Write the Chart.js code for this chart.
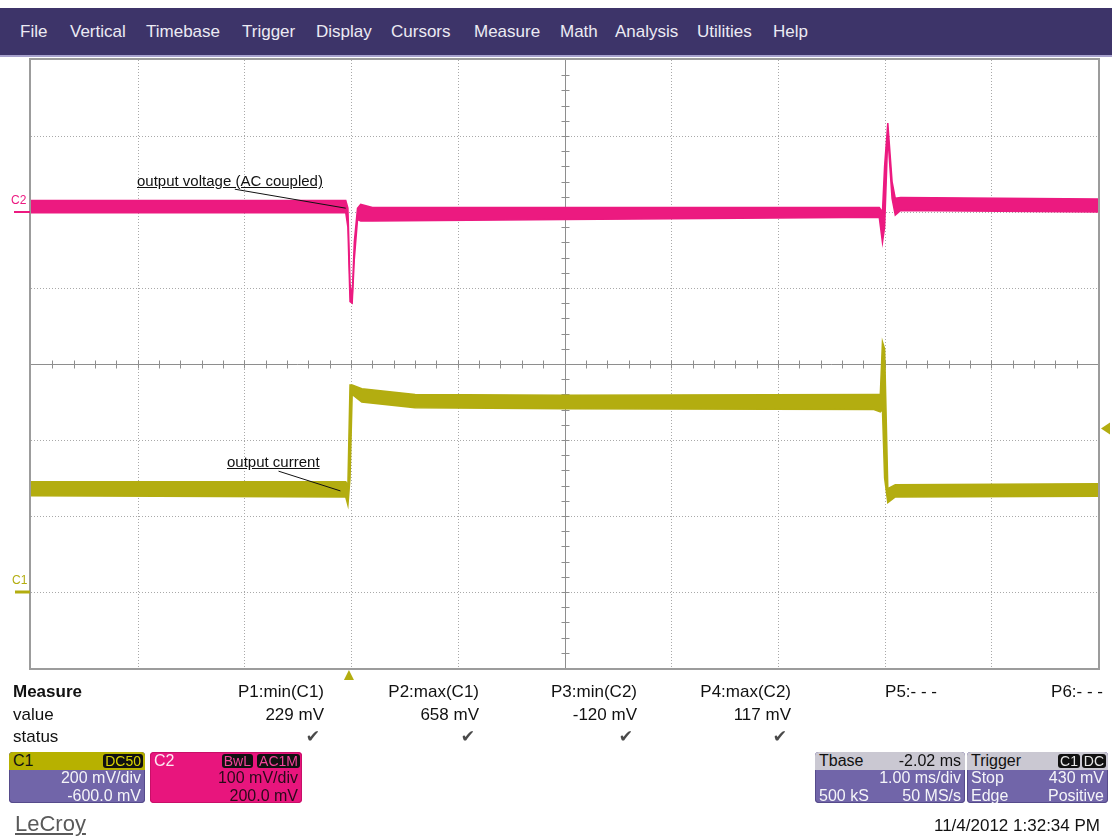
<!DOCTYPE html>
<html>
<head>
<meta charset="utf-8">
<script src="https://cdn.jsdelivr.net/npm/chart.js@4.4.1/dist/chart.umd.min.js"></script>
<style>
  body { margin: 0; background: #fff; font-family: "Liberation Sans", Arial, sans-serif; }
  #wrap { position: relative; width: 1112px; height: 836px; overflow: hidden; }
  #scope { position: absolute; left: 0; top: 0; }
  .menu { position: absolute; left: 0; top: 8px; width: 1112px; height: 47px; background: #3d3469; border-bottom: 2px solid #a7a1cd; }
  .menu span { position: absolute; top: 15px; color: #ecebf4; font-size: 17px; line-height: 17px; }
  .t { position: absolute; white-space: nowrap; line-height: 17px; font-size: 17px; color: #111; }
  .r { text-align: right; }
  .note { position: absolute; font-size: 15px; line-height: 15px; color: #111; text-decoration: underline; white-space: nowrap; }
  .box { position: absolute; top: 752px; height: 51px; background: #7165a9; border-radius: 4px; overflow: hidden;
         color: #f4f4f8; font-size: 16px; box-shadow: inset 0 0 0 1px #564b8b; }
  .hd { position: relative; height: 18px; line-height: 18px; padding: 0 4px; font-size: 16px; }
  .badge { position: absolute; top: 2px; background: #111; border-radius: 3px; padding: 0 2px; line-height: 14px; font-size: 14px; }
  .row { position: absolute; line-height: 16px; white-space: nowrap; }
</style>
</head>
<body>
<div id="wrap">
  <canvas id="scope" width="1112" height="836"></canvas>

  <div class="menu" id="menu"></div>

  <!-- channel ground labels -->
  <div class="t" style="left:11px;top:194px;font-size:12px;line-height:12px;color:#ec1a80">C2</div>
  <div class="t" style="left:12px;top:574px;font-size:12px;line-height:12px;color:#b3ad10">C1</div>

  <!-- trace annotations -->
  <div class="note" style="left:137px;top:173px">output voltage (AC coupled)</div>
  <div class="note" style="left:227px;top:454px">output current</div>

  <div id="measure"></div>

  <div class="box" style="left:9px;width:136px;">
    <div class="hd" style="background:#b7b100;color:#111">C1<span class="badge" style="right:2px;color:#d8d200">DC50</span></div>
    <div class="row" style="right:4px;top:18px">200 mV/div</div>
    <div class="row" style="right:4px;top:36px">-600.0 mV</div>
  </div>
  <div class="box" style="left:150px;width:152px;background:#e8157d;box-shadow:inset 0 0 0 1px #c80f68;color:#2a0a1a">
    <div class="hd" style="color:#fde8f2">C2<span class="badge" style="right:49px;color:#f3449a">BwL</span><span class="badge" style="right:2px;color:#f3449a">AC1M</span></div>
    <div class="row" style="right:4px;top:18px">100 mV/div</div>
    <div class="row" style="right:4px;top:36px">200.0 mV</div>
  </div>
  <div class="box" style="left:815px;width:150px;">
    <div class="hd" style="background:#cac8d2;color:#111">Tbase<span style="position:absolute;right:4px">-2.02 ms</span></div>
    <div class="row" style="right:4px;top:18px">1.00 ms/div</div>
    <div class="row" style="left:4px;top:36px">500 kS</div>
    <div class="row" style="right:4px;top:36px">50 MS/s</div>
  </div>
  <div class="box" style="left:967px;width:141px;">
    <div class="hd" style="background:#cac8d2;color:#111">Trigger<span class="badge" style="right:28px;color:#e6e6e6">C1</span><span class="badge" style="right:2px;color:#e6e6e6">DC</span></div>
    <div class="row" style="left:4px;top:18px">Stop</div>
    <div class="row" style="right:4px;top:18px">430 mV</div>
    <div class="row" style="left:4px;top:36px">Edge</div>
    <div class="row" style="right:4px;top:36px">Positive</div>
  </div>

  <div class="t" style="left:15px;top:813px;font-size:22px;line-height:22px;color:#5a5a5a;text-decoration:underline">LeCroy</div>
  <div class="t r" style="right:12px;top:817px">11/4/2012 1:32:34 PM</div>
</div>

<script>
// time axis in ms (trigger at 0), 1 ms/div, 10 divisions
const timeMin = -3;
const timeMax = 7;
const triggerTime = -0.02;

// C1 output current probe, mV (200 mV/div, offset -600 mV): upper / lower edge of the noisy trace
const c1Time = [-3.0, -0.05, -0.03, -0.01, 0.01, 0.1, 0.6, 2.0, 4.9, 4.96, 4.98, 5.0, 5.03, 5.1, 7.0];
const c1Hi   = [290, 290, 280, 545, 545, 535, 520, 518, 520, 520, 658, 640, 272, 282, 285];
const c1Lo   = [253, 250, 229, 300, 520, 500, 485, 482, 480, 474, 480, 300, 235, 250, 252];

// C2 output voltage, AC coupled, mV (100 mV/div, offset 200 mV)
const c2Time = [-3.0, -0.05, -0.03, -0.01, 0.01, 0.03, 0.06, 0.09, 0.2, 2.0, 4.95, 4.98, 5.0, 5.03, 5.07, 5.1, 5.15, 7.0];
const c2Hi   = [15, 15, 5, -95, -112, -40, 5, 10, 6, 6, 6, 0, 60, 117, 40, 18, 19, 17];
const c2Lo   = [-1, -1, -20, -118, -120, -62, -10, -12, -12, -10, -7, -40, -20, 100, 18, -4, 2, 0];

// vertical ranges shown on screen for each channel (8 divisions)
const c1Range = [-200, 1400];
const c2Range = [-600, 200];
const triggerLevel = 430;

const menuItems = ["File", "Vertical", "Timebase", "Trigger", "Display", "Cursors", "Measure", "Math", "Analysis", "Utilities", "Help"];
const menuLeft  = [20, 70, 146, 242, 316, 391, 474, 560, 615, 697, 773];

const measNames  = ["P1:min(C1)", "P2:max(C1)", "P3:min(C2)", "P4:max(C2)", "P5:- - -", "P6:- - -"];
const measValues = ["229 mV", "658 mV", "-120 mV", "117 mV", "", ""];
const measOk     = [true, true, true, true, false, false];
const measRight  = [324, 479, 637, 791, 937, 1103];

const pink = "#ec1a80";
const olive = "#b3ad10";

// menu bar + measure table
const menu = document.getElementById("menu");
menuItems.forEach(function (name, i) {
    const s = document.createElement("span");
    s.textContent = name;
    s.style.left = menuLeft[i] + "px";
    menu.appendChild(s);
});

let html = '<div class="t" style="left:13px;top:683px;font-weight:bold">Measure</div>' +
           '<div class="t" style="left:13px;top:706px">value</div>' +
           '<div class="t" style="left:13px;top:728px">status</div>';
measNames.forEach(function (name, i) {
    const right = 1112 - measRight[i];
    html += '<div class="t r" style="right:' + right + 'px;top:683px">' + name + '</div>';
    if (measValues[i]) html += '<div class="t r" style="right:' + right + 'px;top:706px">' + measValues[i] + '</div>';
    if (measOk[i]) html += '<div class="t r" style="right:' + (right + 4) + 'px;top:728px;color:#4a4a4a;font-family:\'DejaVu Sans\'">\u2714</div>';
});
document.getElementById("measure").innerHTML = html;

function pts(times, vals) {
    return times.map((t, i) => ({ x: t, y: vals[i] }));
}

// graticule: dotted divisions, solid centre axes with minor ticks, frame
const graticule = {
    id: "graticule",
    beforeDatasetsDraw(chart) {
        const { ctx, chartArea: a, scales } = chart;
        const xs = scales.x, ys = scales.y2;
        const xMid = (timeMin + timeMax) / 2;
        const yMid = (c2Range[0] + c2Range[1]) / 2;
        ctx.save();
        ctx.lineWidth = 1;
        ctx.strokeStyle = "#a9a9a9";
        ctx.setLineDash([1, 2]);
        for (let t = timeMin + 1; t < timeMax; t++) {
            if (t === xMid) continue;
            const px = Math.round(xs.getPixelForValue(t)) + 0.5;
            ctx.beginPath(); ctx.moveTo(px, a.top); ctx.lineTo(px, a.bottom); ctx.stroke();
        }
        for (let v = c2Range[0] + 100; v < c2Range[1]; v += 100) {
            if (v === yMid) continue;
            const py = Math.round(ys.getPixelForValue(v)) + 0.5;
            ctx.beginPath(); ctx.moveTo(a.left, py); ctx.lineTo(a.right, py); ctx.stroke();
        }
        ctx.setLineDash([]);
        ctx.strokeStyle = "#8e8e8e";
        const cx = Math.round(xs.getPixelForValue(xMid)) + 0.5;
        const cy = Math.round(ys.getPixelForValue(yMid)) + 0.5;
        ctx.beginPath();
        ctx.moveTo(cx, a.top); ctx.lineTo(cx, a.bottom);
        ctx.moveTo(a.left, cy); ctx.lineTo(a.right, cy);
        for (let t = timeMin + 0.2; t < timeMax - 0.1; t += 0.2) {
            const px = Math.round(xs.getPixelForValue(t)) + 0.5;
            ctx.moveTo(px, cy - 4); ctx.lineTo(px, cy + 4);
        }
        for (let v = c2Range[0] + 20; v < c2Range[1] - 10; v += 20) {
            const py = Math.round(ys.getPixelForValue(v)) + 0.5;
            ctx.moveTo(cx - 4, py); ctx.lineTo(cx + 4, py);
        }
        ctx.stroke();
        ctx.strokeStyle = "#9c9c9c";
        ctx.lineWidth = 2;
        ctx.strokeRect(a.left - 1, a.top - 1, a.right - a.left + 2, a.bottom - a.top + 2);
        ctx.restore();
    },
    afterDatasetsDraw(chart) {
        const { ctx, chartArea: a, scales } = chart;
        const xs = scales.x, y1 = scales.y1, y2 = scales.y2;
        ctx.save();
        // annotation leader lines
        ctx.strokeStyle = "#111";
        ctx.lineWidth = 1;
        ctx.beginPath();
        ctx.moveTo(xs.getPixelForValue(-1.09), y2.getPixelForValue(30));
        ctx.lineTo(xs.getPixelForValue(-0.05), y2.getPixelForValue(5));
        ctx.moveTo(xs.getPixelForValue(-0.68), y1.getPixelForValue(318));
        ctx.lineTo(xs.getPixelForValue(-0.1), y1.getPixelForValue(266));
        ctx.stroke();
        // ground markers
        ctx.lineWidth = 2;
        ctx.strokeStyle = pink;
        ctx.beginPath(); ctx.moveTo(14, y2.getPixelForValue(0)); ctx.lineTo(a.left - 1, y2.getPixelForValue(0)); ctx.stroke();
        ctx.lineWidth = 3;
        ctx.strokeStyle = olive;
        ctx.beginPath(); ctx.moveTo(15, y1.getPixelForValue(0)); ctx.lineTo(a.left - 1, y1.getPixelForValue(0)); ctx.stroke();
        // trigger time and level markers
        ctx.fillStyle = olive;
        const tx = xs.getPixelForValue(triggerTime);
        ctx.beginPath(); ctx.moveTo(tx, a.bottom + 2); ctx.lineTo(tx + 5, a.bottom + 12); ctx.lineTo(tx - 5, a.bottom + 12); ctx.closePath(); ctx.fill();
        const ly = y1.getPixelForValue(triggerLevel);
        ctx.beginPath(); ctx.moveTo(a.right + 3, ly); ctx.lineTo(a.right + 12, ly - 6); ctx.lineTo(a.right + 12, ly + 6); ctx.closePath(); ctx.fill();
        ctx.restore();
    }
};

function edge(label, times, vals, color, axis, fill) {
    return {
        label: label,
        data: pts(times, vals),
        yAxisID: axis,
        borderColor: color,
        backgroundColor: color,
        borderWidth: 1.5,
        pointRadius: 0,
        tension: 0,
        fill: fill
    };
}

new Chart(document.getElementById("scope"), {
    type: "line",
    data: {
        datasets: [
            edge("C1 upper", c1Time, c1Hi, olive, "y1", false),
            edge("C1 lower", c1Time, c1Lo, olive, "y1", "-1"),
            edge("C2 upper", c2Time, c2Hi, pink, "y2", false),
            edge("C2 lower", c2Time, c2Lo, pink, "y2", "-1")
        ]
    },
    options: {
        responsive: false,
        animation: false,
        devicePixelRatio: 1,
        layout: { padding: { left: 31, right: 14, top: 60, bottom: 168 } },
        scales: {
            x: { type: "linear", min: timeMin, max: timeMax, display: false },
            y1: { type: "linear", min: c1Range[0], max: c1Range[1], display: false },
            y2: { type: "linear", min: c2Range[0], max: c2Range[1], display: false }
        },
        plugins: {
            legend: { display: false },
            tooltip: { enabled: false }
        }
    },
    plugins: [graticule]
});
</script>
</body>
</html>
